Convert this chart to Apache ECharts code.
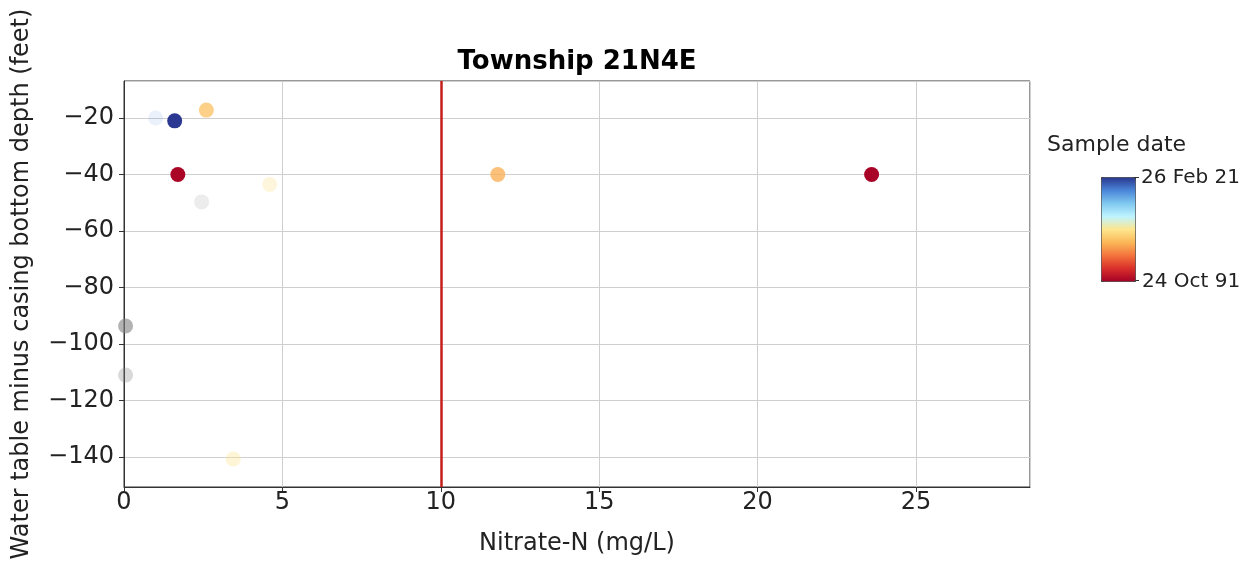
<!DOCTYPE html>
<html>
<head>
<meta charset="utf-8">
<script src="https://cdn.jsdelivr.net/npm/echarts@6/dist/echarts.min.js"></script>
<style>
html,body{margin:0;padding:0;background:#fff;}
#chart{width:1253px;height:567px;}
</style>
</head>
<body>
<div id="chart"></div>
<script>
// Dated samples
const nitrate = [1.6, 2.6, 1.0, 1.7, 4.6, 11.8, 23.6, 3.45];
const depth = [-21, -17.2, -20, -40, -43.5, -40, -40, -140.7];
const sampleYear = [2021.1, 2003.5, 2017, 1992.2, 2006.2, 2002.3, 1992.0, 2006.2];
const alpha = [1, 0.75, 0.12, 1, 0.3, 0.78, 1, 0.35];
// Samples without a date
const undatedNitrate = [2.45, 0.05, 0.05];
const undatedDepth = [-49.7, -93.6, -111];
const undatedAlpha = [0.15, 0.6, 0.3];
// Reference line and colour bar
const nitrateLimit = 10;
const dateMin = 1991.81, dateMax = 2021.15;
const dateLabels = ['26 Feb 21', '24 Oct 91'];
const xMin = 0, xMax = 28.6, yMin = -150.6, yMax = -6.9;

const FONT = 'DejaVu Sans';
const colorScale = ['#a50026', '#d92f2a', '#f3743d', '#fbb757', '#fde68e', '#bff4ff', '#80c8f0', '#4a86d8', '#2a3790'];

const datedData = nitrate.map((x, i) => ({
  value: [x, depth[i], sampleYear[i]],
  itemStyle: { opacity: alpha[i] }
}));
const undatedData = undatedNitrate.map((x, i) => ({
  value: [x, undatedDepth[i]],
  itemStyle: { opacity: undatedAlpha[i] }
}));

const minusFmt = v => String(v).replace('-', '\u2212');

const chart = echarts.init(document.getElementById('chart'), null, { renderer: 'canvas' });
chart.setOption({
  animation: false,
  backgroundColor: '#fff',
  textStyle: { fontFamily: FONT },
  title: {
    text: 'Township 21N4E',
    left: 572, top: 44, textAlign: 'center',
    textStyle: { fontFamily: FONT, fontWeight: 'bold', fontSize: 26, color: '#000' }
  },
  grid: {
    left: 124, right: 223, top: 81, bottom: 80,
    show: true, borderColor: '#333', borderWidth: 1, backgroundColor: 'transparent'
  },
  xAxis: {
    type: 'value', min: xMin, max: xMax, interval: 5,
    name: 'Nitrate-N (mg/L)', nameLocation: 'middle', nameGap: 45,
    nameTextStyle: { fontFamily: FONT, fontSize: 24, color: '#222' },
    axisLine: { show: true, lineStyle: { color: '#333', width: 1 } },
    axisTick: { show: true, length: 5, lineStyle: { color: '#333' } },
    axisLabel: { fontFamily: FONT, fontSize: 24, color: '#222', margin: 4, showMaxLabel: false, formatter: minusFmt },
    splitLine: { show: true, lineStyle: { color: '#cfcfcf', width: 1 } }
  },
  yAxis: {
    type: 'value', min: yMin, max: yMax, minInterval: 20, maxInterval: 20, splitNumber: 7,
    name: 'Water table minus casing bottom depth (feet)', nameLocation: 'middle', nameGap: 90,
    nameTextStyle: { fontFamily: FONT, fontSize: 24, color: '#222' },
    axisLine: { show: true, lineStyle: { color: '#333', width: 1 } },
    axisTick: { show: true, length: 5, lineStyle: { color: '#333' } },
    axisLabel: { fontFamily: FONT, fontSize: 24, color: '#222', margin: 10, showMinLabel: false, showMaxLabel: false, formatter: minusFmt },
    splitLine: { show: true, lineStyle: { color: '#cfcfcf', width: 1 } }
  },
  visualMap: {
    type: 'continuous', seriesIndex: 0, dimension: 2,
    min: dateMin, max: dateMax, calculable: false, realtime: false,
    left: 1101, top: 177, itemWidth: 34, itemHeight: 104,
    padding: 0, borderWidth: 1, borderColor: '#333',
    text: null, showLabel: false, hoverLink: false,
    inRange: { color: colorScale }
  },
  graphic: [
    { type: 'text', left: 1047, top: 134, style: { text: 'Sample date', font: '22px "DejaVu Sans"', fill: '#222' } },
    { type: 'text', left: 1141, top: 168, style: { text: dateLabels[0], font: '20px "DejaVu Sans"', fill: '#222' } },
    { type: 'text', left: 1142, top: 272, style: { text: dateLabels[1], font: '20px "DejaVu Sans"', fill: '#222' } },
    { type: 'line', shape: { x1: 1135, y1: 177.5, x2: 1139, y2: 177.5 }, style: { stroke: '#333', lineWidth: 1 } },
    { type: 'line', shape: { x1: 1135, y1: 280.5, x2: 1139, y2: 280.5 }, style: { stroke: '#333', lineWidth: 1 } }
  ],
  series: [
    {
      type: 'scatter', symbol: 'circle', symbolSize: 15,
      data: datedData,
      markLine: {
        silent: true, symbol: 'none', label: { show: false },
        lineStyle: { color: '#c41e1a', width: 2.5, type: 'solid' },
        data: [{ xAxis: nitrateLimit }]
      },
      z: 3
    },
    {
      type: 'scatter', symbol: 'circle', symbolSize: 15,
      itemStyle: { color: '#808080' },
      data: undatedData,
      z: 2
    }
  ]
});
</script>
</body>
</html>
